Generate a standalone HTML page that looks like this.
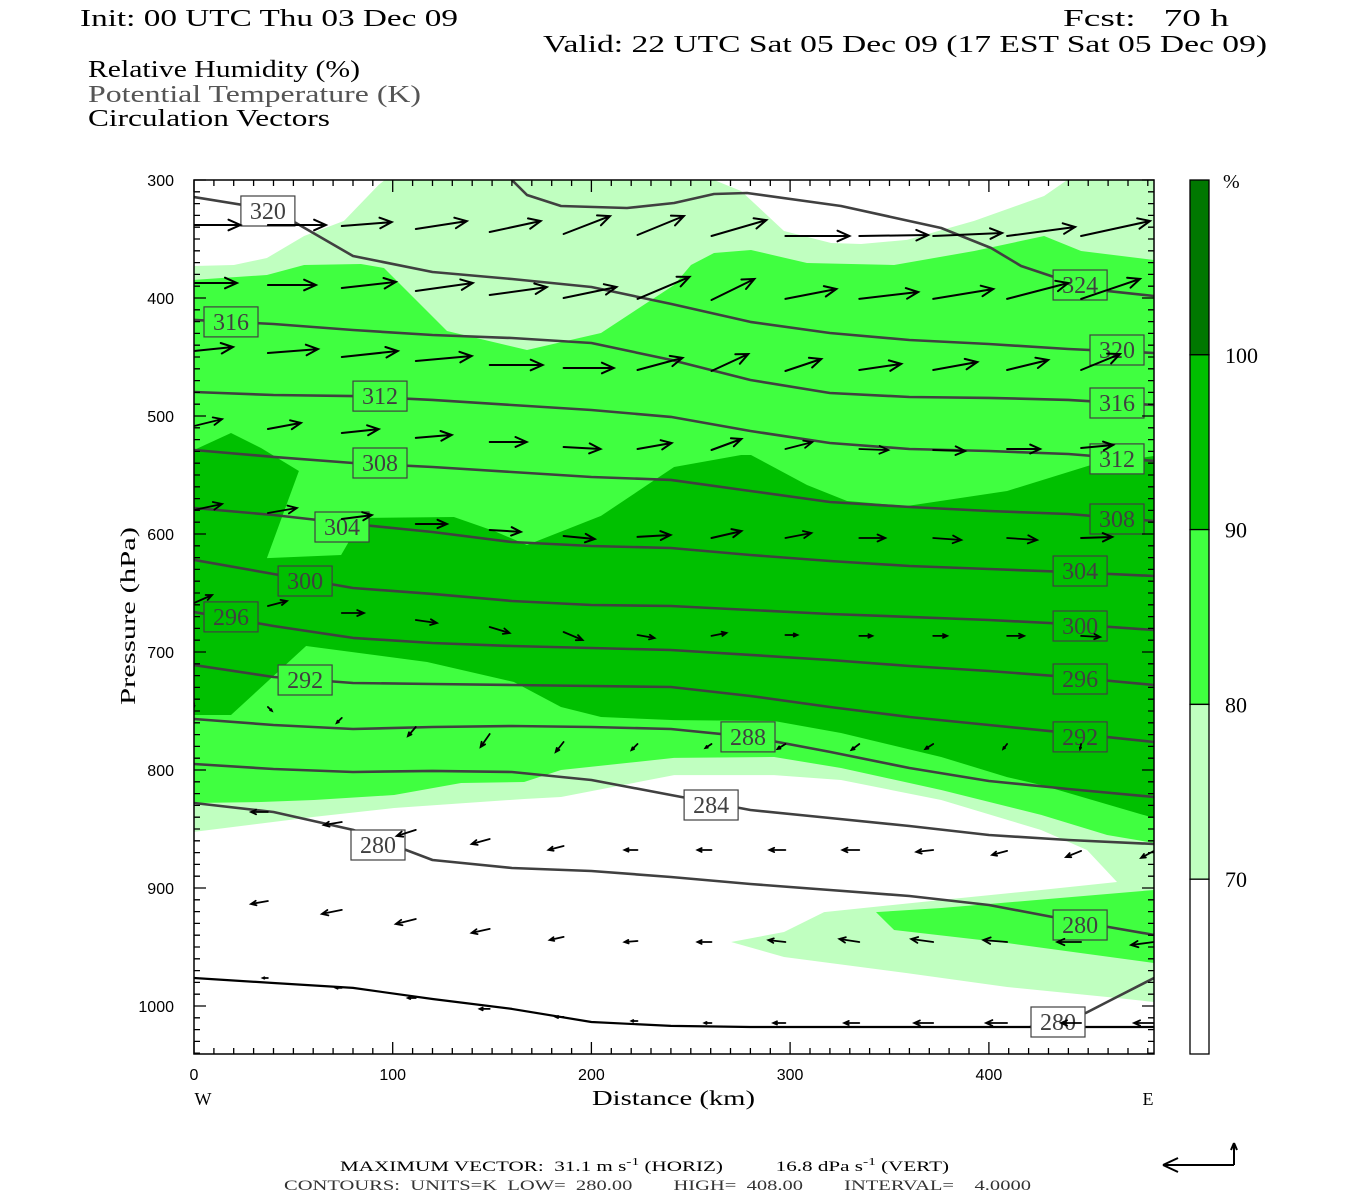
<!DOCTYPE html>
<html><head><meta charset="utf-8"><title>RH / Theta cross-section</title>
<style>
html,body{margin:0;padding:0;background:#fff;}
svg{display:block;}
.serif{font-family:"Liberation Serif",serif;}
.sans{font-family:"Liberation Sans",sans-serif;}
</style></head>
<body>
<svg id="chart" width="1350" height="1200" viewBox="0 0 1350 1200" xmlns="http://www.w3.org/2000/svg">
  <g class="serif" font-size="24">
    <text x="80" y="26" textLength="378" lengthAdjust="spacingAndGlyphs">Init: 00 UTC Thu 03 Dec 09</text>
    <text x="1063" y="26" textLength="166" lengthAdjust="spacingAndGlyphs" xml:space="preserve">Fcst:   70 h</text>
    <text x="543" y="52" textLength="724" lengthAdjust="spacingAndGlyphs">Valid: 22 UTC Sat 05 Dec 09 (17 EST Sat 05 Dec 09)</text>
    <text x="88" y="77" textLength="272" lengthAdjust="spacingAndGlyphs">Relative Humidity (%)</text>
    <text x="88" y="102" fill="#555" textLength="333" lengthAdjust="spacingAndGlyphs">Potential Temperature (K)</text>
    <text x="88" y="126" textLength="242" lengthAdjust="spacingAndGlyphs">Circulation Vectors</text>
  </g>
  <defs><clipPath id="plotclip"><rect x="194" y="180" width="960" height="874"/></clipPath></defs>
  <g id="fills" clip-path="url(#plotclip)"></g>
  <g id="contours" clip-path="url(#plotclip)"></g>
  <g id="labels"></g>
  <g id="vectors" clip-path="url(#plotclip)"></g>
  <g id="axes"></g>
  <g id="cbar"></g>
  <g class="serif" font-size="15">
    <text x="340" y="1171" textLength="609" lengthAdjust="spacingAndGlyphs" xml:space="preserve">MAXIMUM VECTOR:  31.1 m s<tspan dy="-6" font-size="11">-1</tspan><tspan dy="6"> (HORIZ)          16.8 dPa s</tspan><tspan dy="-6" font-size="11">-1</tspan><tspan dy="6"> (VERT)</tspan></text>
    <text x="284" y="1190" fill="#333" textLength="747" lengthAdjust="spacingAndGlyphs" xml:space="preserve">CONTOURS:  UNITS=K  LOW=  280.00        HIGH=  408.00        INTERVAL=    4.0000</text>
  </g>
  <g stroke="#000" stroke-width="2" fill="none">
    <path d="M1234 1165 L1163 1165 M1163 1165 L1178 1158 M1163 1165 L1178 1172"/>
    <path d="M1234 1165 L1234 1143 M1234 1143 L1231 1150 M1234 1143 L1237 1150"/>
  </g>
</svg>
<script>
// ---------- data ----------
const xTicks = [0,100,200,300,400];
const yTicks = [300,400,500,600,700,800,900,1000];
const cbarLevels = [100,90,80,70];
const cbarColors = ["#007800","#00c000","#40ff40","#c0ffc0","#ffffff"];
const contourKm = [0,40,80,120,160,200,240,280,320,360,400,440,483.1];
const theta320 = [314.4,325.4,364.4,378,383.9,390.7,405,420.3,429.7,435.6,439,443.2,446.6];
const theta316 = [418.6,422,427.1,431.4,433.9,438.1,452.5,469.5,480.5,483.9,484.7,486.4,490.7];
const theta312 = [479.7,482.2,483.1,486.4,490.7,494.9,500.8,512.7,522.9,528,529.7,532.2,538.1];
const theta308 = [528.8,534.7,539.8,543.2,547.5,551.7,554.2,563.6,572.9,577.1,580.5,583.1,589];
const theta304 = [578,583.9,591.5,598.3,606.8,610.2,611.9,617.8,622.9,627.1,629.7,632.2,635.6];
const theta300 = [622,633.9,645.8,650.8,656.8,660.2,661,664.4,667.8,670.3,672.9,676.3,681.4];
const theta296 = [666.1,678,688.1,692.4,694.9,696.6,698.3,702.5,706.8,711.9,716.1,721.2,728];
const theta292 = [711,721.2,726.3,727.1,728,728.8,729.7,737.3,746.6,755.1,761.9,768.6,776.3];
const theta288 = [756.8,761.9,765.3,763.6,762.7,763.6,765.3,772,784.7,798.3,809.3,816.1,822.9];
const theta284 = [794.9,799.2,801.7,800.8,801.7,808.5,821.2,833.9,840.7,847.5,855.1,859.3,862.7];
const theta280 = [828,835.6,850.8,876.3,883.1,885.6,890.7,896.6,901.7,906.8,914.4,927.1,939.8];
const groundP = [976.3,980.5,984.7,994.1,1002.5,1013.6,1016.9,1017.8,1017.8,1017.8,1017.8,1017.8,1017.8];
const theta324Km = [160,167.6,184.7,217.9,241.6,261.7,278.3,325.6,376,401.1,416.2,432.8,459.5,483.1];
const theta324P = [300,312.7,322,323.7,319.5,311.9,311,322,340.7,357.6,372.9,382.2,394,398.3];
const theta280bKm = [420.7,448.9,459.5,483.1];
const theta280bP = [1017.8,1005.9,996.6,976.3];

// RH fill regions [km, hPa]
const rhWhiteTopLeft = [[0,300],[96,300],[93,304],[75.5,334.7],[55.4,347.5],[36.7,366.1],[20.1,372],[0,372.9]];
const rhWhiteTopBubble = [[261.7,300],[275.3,309.3],[296.9,343.2],[320.6,353.4],[335.7,354.2],[358.8,350.8],[392.6,334.7],[427.8,313.6],[439.4,300]];
const rhWhiteBottom = [[0,852.5],[60.4,839.8],[100.7,832.2],[166.1,824.6],[184.7,822.9],[241.6,804.3],[291.9,804.3],[325.6,808.5],[376,825.4],[426.3,850.9],[449.4,867.8],[464.5,894.9],[426.3,901.7],[376,910.2],[317.1,920.4],[296.9,937.3],[270.3,945.8],[296.9,958.5],[358.8,972.1],[409.2,983.9],[459.5,992.4],[483.1,996.6],[483.1,1040.7],[0,1040.7]];
const rh80Main = [[0,384.7],[36.7,380.5],[55.4,372],[84,371.2],[95.6,374.6],[109.2,397.5],[127.3,428],[167.6,444.1],[204.8,429.7],[241.6,389],[250.1,372],[261.7,361.9],[280.3,359.3],[308.5,370.3],[352.3,372],[392.6,360.2],[427.8,347.5],[446.4,360.2],[483.1,367.8],[483.1,861.9],[459.5,855.1],[426.3,838.1],[376,817],[325.6,798.3],[291.9,789],[241.6,789.8],[184.7,800],[166.1,810.2],[134.4,811],[100.7,821.2],[60.4,825.4],[33.7,827.1],[0,828]];
const rh80Low = [[343.2,920.4],[376,917],[435.8,908.5],[483.1,901.7],[483.1,963.6],[409.2,946.6],[352.3,935.6]];
const rh90Main = [[0,528.8],[18.6,514.4],[33.7,527.1],[52.8,546.6],[36.7,620.4],[74,617.8],[79,603.4],[87.1,586.4],[130.8,585.6],[151,597.5],[167.6,609.3],[204.8,584.7],[228,558.5],[241.6,543.2],[275.3,533.1],[280.3,533.1],[308.5,558.5],[328.6,572],[358.8,576.3],[409.2,563.6],[451.4,541.5],[483.1,533.9],[483.1,840.7],[426.3,812.7],[409.2,806],[376,789],[325.6,768.7],[291.9,758.5],[241.6,757.7],[204.8,755.1],[184.7,746.6],[161,725.4],[117.3,708.5],[56.4,694.9],[18.6,753.4],[0,753.4]];

// contour labels: value, km, hPa, box fill
const labelValues = [320,316,312,308,304,300,296,292,288,284,280,324,320,316,312,308,304,300,296,292,280,280];
const labelKm = [37.2,18.6,93.6,93.6,74.5,55.9,18.6,55.9,278.8,260.2,92.6,445.9,464.5,464.5,464.5,464.5,445.9,445.9,445.9,445.9,445.9,434.8];
const labelP = [326.3,420.3,483.1,539.8,594.1,639.8,670.3,723.7,772,829.7,863.6,389,444.1,489,536.4,587.3,631.4,678,722.9,772,931.4,1013.6];
const labelFill = ["#fff","#40ff40","#40ff40","#40ff40","#40ff40","#00c000","#00c000","#40ff40","#40ff40","#fff","#fff","#40ff40","#40ff40","#40ff40","#40ff40","#00c000","#00c000","#00c000","#00c000","#00c000","#40ff40","#fff"];

// circulation vectors: column km, per-row tail pressure, u (m/s), w (dPa/s, up positive)
const vecKm = [0,37.2,74.4,111.6,148.8,186,223.2,260.4,297.6,334.8,372,409.2,446.4,483.1];
const vecP = [
 [338.1,338.1,339,341.5,344.1,345.8,346.6,347.5,347.5,347.5,347.5,347.5,347.5],
 [387.3,389,391.5,394.1,397.5,400,400.8,401.7,400.8,400.8,400.8,400.8,400.8],
 [444.9,446.6,450,453.4,456.8,459.3,461,461.9,461.9,461,461,461,461],
 [508.5,511,514.4,518.6,522,526.3,528,528.8,528,528,528.8,528,527.1],
 [579.7,582.2,587.3,591.5,596.6,601.7,602.5,603.4,603.4,603.4,603.4,603.4,603.4],
 [658.5,661,667,672.9,678.8,683.1,685.6,686.4,685.6,686.4,686.4,686.4,686.4],
 [743.2,746.6,755.9,763.6,769.5,776.3,778,778,778,778,778,778,778],
 [835.6,835.6,844.1,850.8,858.5,864.4,867.8,867.8,867.8,867.8,867.8,868.6,868.6,868.6],
 [911,911,918.6,926.3,934.7,941.5,944.9,945.8,945.8,945.8,945.8,945.8,945.8,945.8],
 [976.3,976.3,984.7,993.2,1002.5,1009.3,1012.7,1014.4,1014.4,1014.4,1014.4,1014.4,1014.4,1014.4]
];
const vecU = [
 [20,25,21.5,22,22,20,20,23.7,27.6,29.7,29.7,29.3,29.7],
 [18.5,20.7,23.3,24.6,24.6,22.8,22.4,18.5,22,25.4,25.9,26.3,25.4],
 [16.8,21.6,24.1,24.1,22.8,21.6,19.4,15.9,15.5,18.1,19,17.7,16.8],
 [12.1,14.2,15.9,15.5,15.9,15.9,14.7,12.9,11.6,12.5,13.8,14.2,13.8],
 [12.1,12.5,12.9,13.4,13.4,13.4,14.2,12.9,11.2,11.2,12.1,12.9,13.4],
 [7.8,8.2,9.5,9.1,8.6,8.2,7.3,6.5,5.2,5.6,6,7.3,8.2],
 [0,1.7,-2.2,-3.4,-3.9,-3.4,-2.6,-2.6,-3.4,-3.4,-3.4,-1.7,-0.4],
 [0,-7.3,-7.8,-8.2,-7.8,-6.5,-5.6,-6,-6.9,-7.3,-7.3,-6.5,-6.5,-5.6],
 [0,-7.3,-8.6,-8.6,-7.8,-6,-5.6,-6,-7.3,-8.6,-9.5,-10.3,-10.3,-9.9],
 [0,-2.2,-2.6,-3.4,-4.3,-3.4,-2.6,-3,-5.2,-6.5,-8.2,-9.1,-8.6,-8.6]
];
const vecW = [
 [0,0,3,6,8.4,13.7,14.5,12.2,0,0.8,2.3,6.9,11.5],
 [0,0,4.6,6.1,6.1,8.4,16.8,16,7.6,5.3,7.6,12.2,15.3],
 [3,3,4.6,3.8,0,0,9.2,13,9.2,4.6,6.1,7.6,12.2],
 [5.3,4.6,3,2.3,0,-1.5,4.6,8.4,5.3,-0.8,-0.8,0,2.3],
 [4.6,3.8,3,0,-1.5,-2.3,1.5,5.3,3.8,0,-1.5,-1.5,0.8],
 [6.1,3.8,0,-2.3,-4.6,-6.1,-2.3,2.3,0,0,0,0,-0.8],
 [-3,-3,-3.8,-6.9,-9.9,-7.6,-4.6,-3,-3.8,-4.6,-3.8,-3.8,-3.8],
 [0,0,-2.3,-4.6,-3.8,-3,0,0,0,0,-1.5,-3,-4.6,-5.3],
 [0,-2.3,-3,-3.8,-3,-2.3,-0.8,0,1.5,2.3,2.3,1.5,0,-2.3],
 [0,0,0,0,0,0,0,0,0,0,0,0,0,0]
];

// ---------- axis functions ----------
const X0=194, X1=1154, Y0=180, Y1=1054, KMMAX=483.1, PMIN=300, PMAX=1040.7;
function xs(km){ return X0 + km*(X1-X0)/KMMAX; }
function ys(p){ return Y0 + (p-PMIN)*(Y1-Y0)/(PMAX-PMIN); }
const NS="http://www.w3.org/2000/svg";
function mk(tag, parent, attrs){ const e=document.createElementNS(NS,tag); for(const k in attrs) e.setAttribute(k,attrs[k]); parent.appendChild(e); return e; }

// ---------- fills ----------
const gF=document.getElementById('fills');
const bg=mk('rect',gF,{x:X0,y:Y0,width:X1-X0,height:Y1-Y0,fill:'#c0ffc0'});


function poly(pts,fill,name){
  const d=pts.map((q,i)=>(i?'L':'M')+xs(q[0]).toFixed(1)+' '+ys(q[1]).toFixed(1)).join(' ')+'Z';
  const e=mk('path',gF,{d:d,fill:fill});
  
  
}
poly(rhWhiteTopLeft,'#ffffff','rh-below-70-top-left');
poly(rhWhiteTopBubble,'#ffffff','rh-below-70-top');
poly(rhWhiteBottom,'#ffffff','rh-below-70-bottom');
poly(rh80Main,'#40ff40','rh-80-90-main');
poly(rh80Low,'#40ff40','rh-80-90-low');
poly(rh90Main,'#00c000','rh-90-100-main');

// ---------- contours ----------
const gC=document.getElementById('contours');
function line(kms,ps,stroke,w,name){
  const d=kms.map((k,i)=>(i?'L':'M')+xs(k).toFixed(1)+' '+ys(ps[i]).toFixed(1)).join(' ');
  const e=mk('path',gC,{d:d,fill:'none',stroke:stroke,'stroke-width':w,'stroke-linejoin':'round'});
  
  
}
const thetaSeries=[[320,theta320],[316,theta316],[312,theta312],[308,theta308],[304,theta304],[300,theta300],[296,theta296],[292,theta292],[288,theta288],[284,theta284],[280,theta280]];
thetaSeries.forEach(s=>line(contourKm,s[1],'#404040',2.6,'theta-contour-'+s[0]));
line(theta324Km,theta324P,'#404040',2.6,'theta-contour-324');
line(theta280bKm,theta280bP,'#404040',2.6,'theta-contour-280-surface');
line(contourKm,groundP,'#000',2.2,'ground-line');

// ---------- labels ----------
const gL=document.getElementById('labels');
labelValues.forEach((v,i)=>{
  const cx=xs(labelKm[i]), cy=ys(labelP[i]);
  const g=mk('g',gL,{});
  
  
  mk('rect',g,{x:(cx-27).toFixed(1),y:(cy-15).toFixed(1),width:54,height:30,fill:labelFill[i],stroke:'#404040','stroke-width':1.2});
  const t=mk('text',g,{x:cx.toFixed(1),y:(cy+8).toFixed(1),'text-anchor':'middle','font-size':24,fill:'#404040','font-family':'Liberation Serif, serif'});
  t.textContent=v;
});

// ---------- vectors ----------
const gV=document.getElementById('vectors');
const USCALE=2.32, WSCALE=1.31;
vecP.forEach((row,r)=>{
  row.forEach((p,c)=>{
    const u=vecU[r][c], w=vecW[r][c];
    const dx=u*USCALE, dy=-w*WSCALE;
    const len=Math.hypot(dx,dy);
    if(len<1) return;
    const x0=xs(vecKm[c]), y0=ys(p), x1=x0+dx, y1=y0+dy;
    const h=Math.min(13,len*0.33), a=Math.atan2(dy,dx), sp=0.42;
    const hx1=x1-h*Math.cos(a-sp), hy1=y1-h*Math.sin(a-sp);
    const hx2=x1-h*Math.cos(a+sp), hy2=y1-h*Math.sin(a+sp);
    const e=mk('path',gV,{d:`M${x0.toFixed(1)} ${y0.toFixed(1)} L${x1.toFixed(1)} ${y1.toFixed(1)} M${hx1.toFixed(1)} ${hy1.toFixed(1)} L${x1.toFixed(1)} ${y1.toFixed(1)} L${hx2.toFixed(1)} ${hy2.toFixed(1)}`,fill:'none',stroke:'#000','stroke-width':len>30?2:1.8,'stroke-linecap':'round'});
    
    
  });
});

// ---------- axes ----------
const gA=document.getElementById('axes');
const frame=mk('rect',gA,{x:X0,y:Y0,width:X1-X0,height:Y1-Y0,fill:'none',stroke:'#000','stroke-width':1.5});


let td='';
for(let p=300;p<=1040;p+=10){
  const y=ys(p).toFixed(1), L=(p%100===0)?12:6;
  td+=`M${X0} ${y}h${L}M${X1} ${y}h${-L}`;
}
for(let k=0;k<=480;k+=10){
  const x=xs(k).toFixed(1), L=(k%100===0)?12:6;
  td+=`M${x} ${Y0}v${L}M${x} ${Y1}v${-L}`;
}
const ticks=mk('path',gA,{d:td,stroke:'#000','stroke-width':1.3,fill:'none'});


yTicks.forEach(p=>{
  const t=mk('text',gA,{x:174,y:(ys(p)+6).toFixed(1),'text-anchor':'end','font-size':16,'font-family':'Liberation Sans, sans-serif'});
  
  
  t.textContent=p;
});
xTicks.forEach(k=>{
  const t=mk('text',gA,{x:xs(k).toFixed(1),y:1080,'text-anchor':'middle','font-size':16,'font-family':'Liberation Sans, sans-serif'});
  
  
  t.textContent=k;
});
function txt(s,attrs,name){ const t=mk('text',gA,attrs);   t.textContent=s; return t; }
txt('W',{x:203,y:1105,'text-anchor':'middle','font-size':18,'font-family':'Liberation Serif, serif'},'west-label');
txt('E',{x:1148,y:1105,'text-anchor':'middle','font-size':18,'font-family':'Liberation Serif, serif'},'east-label');
txt('Distance (km)',{x:592,y:1105,'font-size':21,'font-family':'Liberation Serif, serif',textLength:163,lengthAdjust:'spacingAndGlyphs'},'x-axis-title');
txt('Pressure (hPa)',{x:0,y:0,'font-size':21,'font-family':'Liberation Serif, serif',textLength:178,lengthAdjust:'spacingAndGlyphs',transform:'translate(135,705) rotate(-90)'},'y-axis-title');

// ---------- colorbar ----------
const gB=document.getElementById('cbar');
const CB0=1190, CB1=1209, segH=(Y1-Y0)/cbarColors.length;
cbarColors.forEach((c,i)=>{
  const r=mk('rect',gB,{x:CB0,y:(Y0+i*segH).toFixed(1),width:CB1-CB0,height:segH.toFixed(1),fill:c,stroke:'#000','stroke-width':1.3});
  
  
});
cbarLevels.forEach((v,i)=>{
  const t=mk('text',gB,{x:1225,y:(Y0+(i+1)*segH+8).toFixed(1),'font-size':22,'font-family':'Liberation Serif, serif'});
  
  
  t.textContent=v;
});
const pc=mk('text',gB,{x:1223,y:188,'font-size':20,'font-family':'Liberation Serif, serif'});


pc.textContent='%';
</script>
</body></html>
